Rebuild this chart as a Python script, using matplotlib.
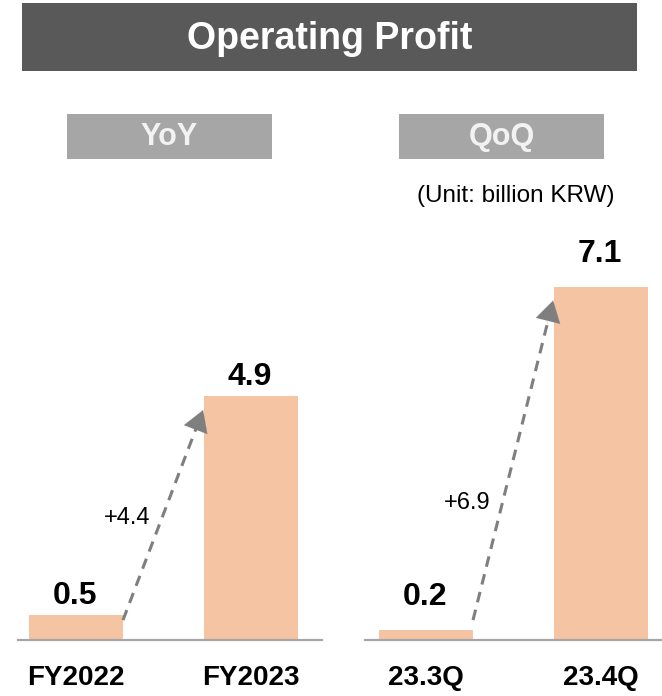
import matplotlib
matplotlib.use("Agg")
import matplotlib.pyplot as plt
from matplotlib.patches import Rectangle

plt.rcParams['font.family'] = ['Liberation Sans', 'DejaVu Sans']

# ---- data ----
title = "Operating Profit"
unit_text = "(Unit: billion KRW)"
yoy_title = "YoY"
qoq_title = "QoQ"
yoy_categories = ["FY2022", "FY2023"]
yoy_values = [0.5, 4.9]
yoy_delta = "+4.4"
qoq_categories = ["23.3Q", "23.4Q"]
qoq_values = [0.2, 7.1]
qoq_delta = "+6.9"

# ---- style ----
W, H = 662, 696
BAR_COLOR = "#F5C5A3"
AXIS_COLOR = "#A6A6A6"
ARROW_COLOR = "#7F7F7F"
HEADER_COLOR = "#595959"
SUB_COLOR = "#A6A6A6"

fig = plt.figure(figsize=(W / 100, H / 100), dpi=100)


def px_rect(x0, y0, x1, y1, color):
    fig.add_artist(Rectangle((x0 / W, 1 - y1 / H), (x1 - x0) / W, (y1 - y0) / H,
                             transform=fig.transFigure, facecolor=color,
                             edgecolor='none', zorder=0))


def px_text(x, y, s, **kw):
    fig.text(x / W, 1 - y / H, s, ha='center', va='center', **kw)


# header
px_rect(22, 3, 637, 71, HEADER_COLOR)
px_text(330, 39, title, color='white', fontsize=27, fontweight='bold')
px_rect(67, 114, 272, 159, SUB_COLOR)
px_text(169.5, 137, yoy_title, color='#F2F2F2', fontsize=22, fontweight='bold')
px_rect(399, 114, 604, 159, SUB_COLOR)
px_text(501.5, 137, qoq_title, color='#F2F2F2', fontsize=22, fontweight='bold')
px_text(516, 196, unit_text, color='black', fontsize=17.5)

BASE_Y = 640
TOP_Y = 230
PX_PER_CAT = 175.0
BAR_W = 94 / PX_PER_CAT
ymax = max(yoy_values + qoq_values) * 1.16


def panel(x_left, x_right, center0, cats, vals, delta, label_off, delta_t):
    ax = fig.add_axes([x_left / W, (H - BASE_Y) / H, (x_right - x_left) / W,
                       (BASE_Y - TOP_Y) / H])
    ax.set_xlim(-(center0 - x_left) / PX_PER_CAT,
                (x_right - center0) / PX_PER_CAT)
    ax.set_ylim(0, ymax)
    xs = list(range(len(vals)))
    ax.bar(xs, vals, width=BAR_W, color=BAR_COLOR, zorder=2)
    for x, v in zip(xs, vals):
        ax.annotate(f"{v:.1f}", xy=(x, v), xytext=(-1, label_off),
                    textcoords='offset points', ha='center', va='baseline',
                    fontsize=23, fontweight='bold', color='black')
    for s in ['top', 'left', 'right']:
        ax.spines[s].set_visible(False)
    ax.spines['bottom'].set_color(AXIS_COLOR)
    ax.spines['bottom'].set_linewidth(1.6)
    ax.spines['bottom'].set_zorder(3)
    ax.set_yticks([])
    ax.set_xticks(xs)
    ax.set_xticklabels(cats, fontsize=20, fontweight='bold')
    ax.tick_params(axis='x', length=0, pad=18)
    ax.patch.set_alpha(0)

    # dashed arrow between bars
    x0, y0 = BAR_W / 2, 0.4
    x1, y1 = 1 - BAR_W / 2 - 0.005, vals[1] - 0.28
    f = 0.93
    xm, ym = x0 + (x1 - x0) * f, y0 + (y1 - y0) * f
    ax.plot([x0, xm], [y0, ym], color=ARROW_COLOR, lw=2.2,
            linestyle=(0, (3.5, 2.5)), zorder=4, solid_capstyle='butt')
    ax.annotate('', xy=(x1, y1), xytext=(x0 + (x1 - x0) * 0.9, y0 + (y1 - y0) * 0.9),
                arrowprops=dict(arrowstyle='-|>,head_length=0.75,head_width=0.45',
                                color=ARROW_COLOR, lw=0.1, shrinkA=0, shrinkB=0,
                                mutation_scale=20),
                zorder=5)
    tx, ty = x0 + (x1 - x0) * delta_t, y0 + (y1 - y0) * delta_t
    ax.annotate(delta, xy=(tx, ty), xytext=(-9, -2), textcoords='offset points',
                ha='right', va='center', fontsize=17, color='black')
    return ax


panel(18, 322, 76, yoy_categories, yoy_values, yoy_delta, 8, 0.5)
panel(365, 662, 426, qoq_categories, qoq_values, qoq_delta, 18, 0.375)

fig.savefig("out.png", dpi=100)
